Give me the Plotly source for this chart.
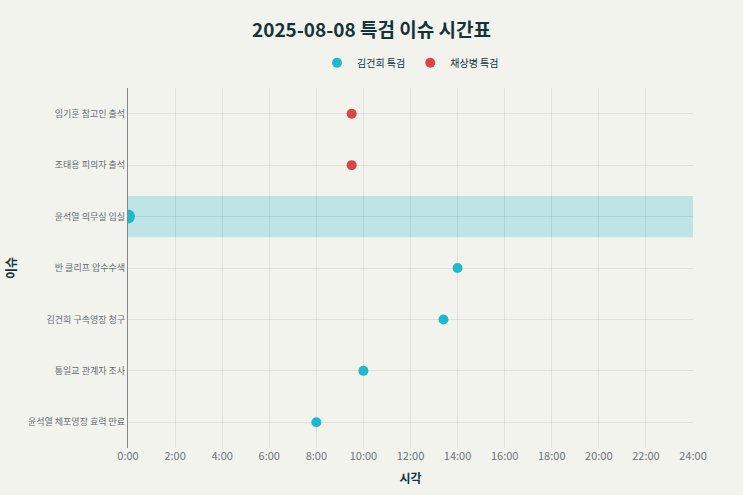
import plotly.graph_objects as go

# Data
issues = [
    "윤석열 체포영장 효력 만료",
    "통일교 관계자 조사",
    "김건희 구속영장 청구",
    "반 클리프 압수수색",
    "윤석열 의무실 입실",
    "조태용 피의자 출석",
    "임기훈 참고인 출석",
]
kim_issues = ["윤석열 체포영장 효력 만료", "통일교 관계자 조사", "김건희 구속영장 청구", "반 클리프 압수수색"]
kim_hours = [8.0, 10.0, 13.4, 14.0]
chae_issues = ["조태용 피의자 출석", "임기훈 참고인 출석"]
chae_hours = [9.5, 9.5]
highlight_issue = ["윤석열 의무실 입실"]
highlight_hours = [0.0]
tick_hours = list(range(0, 25, 2))
tick_labels = [f"{h}:00" for h in tick_hours]

CYAN = "#1FB8CD"
RED = "#DB4545"
BG = "#F3F3EE"
FONT = "Noto Sans CJK KR, Noto Sans, sans-serif"

fig = go.Figure()
fig.add_trace(go.Scatter(x=kim_hours, y=kim_issues, mode="markers", name="김건희 특검",
                         marker=dict(color=CYAN, size=10)))
fig.add_trace(go.Scatter(x=chae_hours, y=chae_issues, mode="markers", name="채상병 특검",
                         marker=dict(color=RED, size=10)))
fig.add_trace(go.Scatter(x=highlight_hours, y=highlight_issue, mode="markers", name="김건희 특검",
                         showlegend=False, marker=dict(color=CYAN, size=14)))

hi = issues.index(highlight_issue[0])
fig.add_shape(type="rect", xref="paper", x0=0, x1=1, yref="y", y0=hi - 0.4, y1=hi + 0.4,
              fillcolor="rgba(31,184,205,0.25)", line=dict(width=0), layer="below")

fig.update_layout(
    width=743, height=495,
    margin=dict(l=128, r=50, t=88, b=47),
    paper_bgcolor=BG, plot_bgcolor=BG,
    font=dict(family=FONT, color="#13343B"),
    title=dict(text="<b>2025-08-08 특검 이슈 시간표</b>", x=0.5, xanchor="center", y=0.938,
               yanchor="middle", font=dict(size=19, color="#13343B")),
    legend=dict(orientation="h", x=0.5, xanchor="center", y=1.07, yanchor="middle",
                font=dict(size=10, color="#13343B"), bgcolor="rgba(0,0,0,0)"),
    xaxis=dict(range=[0, 24], tickvals=tick_hours, ticktext=tick_labels,
               showgrid=True, gridcolor="rgba(0,0,0,0.075)", zeroline=False,
               showline=False, tickfont=dict(size=11, color="#6b7478"),
               title=dict(text="<b>시각</b>", font=dict(size=12, color="#13343B"), standoff=12)),
    yaxis=dict(categoryorder="array", categoryarray=issues, range=[-0.5, 6.5],
               showgrid=True, gridcolor="rgba(0,0,0,0.075)", showline=True,
               linecolor="#888888", linewidth=1.2, ticks="",
               tickfont=dict(size=9, color="#646d71"),
               title=dict(text="<b>이슈</b>", font=dict(size=12, color="#13343B"), standoff=8)),
)

fig.write_html("out.html")
